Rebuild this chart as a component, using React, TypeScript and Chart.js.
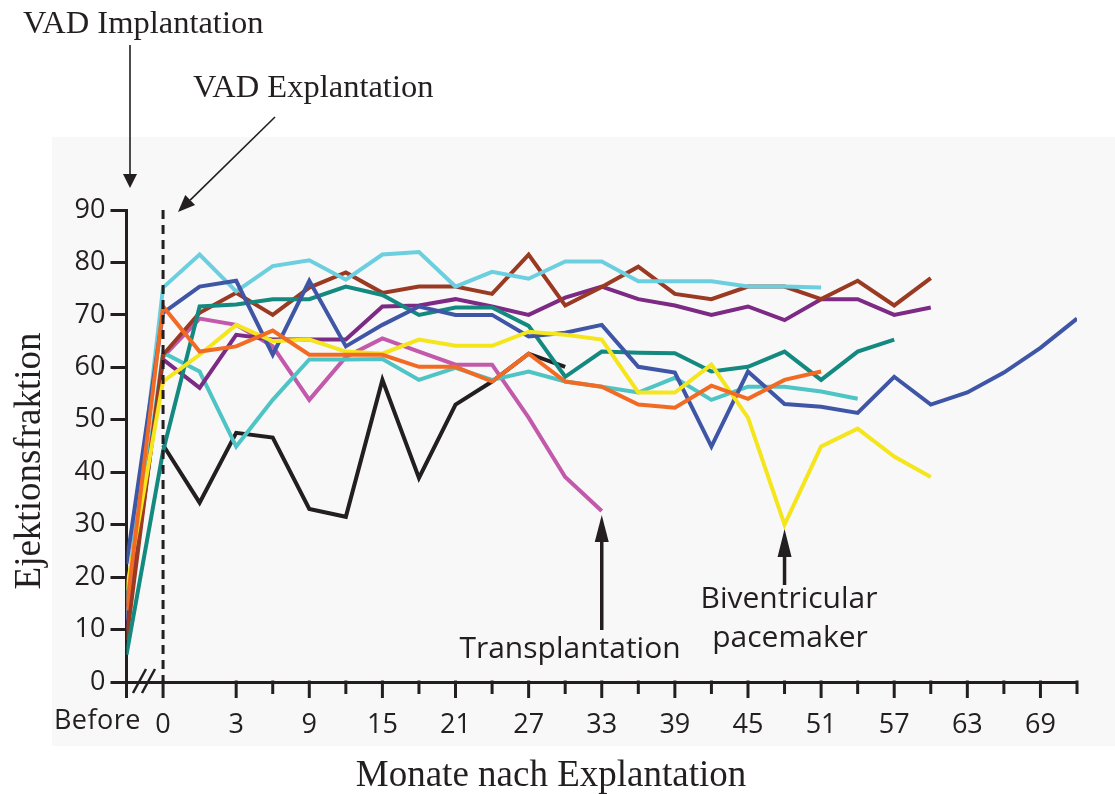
import React, { useEffect, useRef } from "react";
import { Chart, registerables } from "chart.js";

Chart.register(...registerables);

// x index: -1 = "Before", 0.. = measurement steps after explantation
const tickIndices = Array.from({ length: 27 }, (_, k) => k - 1);
const tickLabels: Record<number, string> = {
  0: "0", 2: "3", 4: "9", 6: "15", 8: "21", 10: "27", 12: "33",
  14: "39", 16: "45", 18: "51", 20: "57", 22: "63", 24: "69",
};
const yTicks = [0, 10, 20, 30, 40, 50, 60, 70, 80, 90];

// first value = "Before", then values at steps 0,1,2,...
const cyanValues = [15, 75.2, 81.5, 74.5, 79.3, 80.4, 76.7, 81.5, 82, 75.4, 78.2, 76.9, 80.2, 80.2, 76.4, 76.4, 76.4, 75.4, 75.4, 75.2];
const brownValues = [8, 62.4, 70.4, 74.2, 70, 75.2, 78.1, 74.2, 75.4, 75.4, 74, 81.5, 71.8, 75.3, 79.2, 74, 73, 75.4, 75.4, 73, 76.5, 71.8, 77];
const purpleValues = [10, 61.5, 56.1, 66.2, 65.3, 65.3, 65.3, 71.6, 71.8, 73, 71.6, 70, 73.3, 75.4, 73, 71.8, 70, 71.6, 69, 73, 73, 70, 71.4];
const blueValues = [22.5, 70.4, 75.4, 76.5, 62.4, 76.5, 64, 68.1, 71.6, 70, 70, 65.9, 66.6, 68.1, 60.1, 59, 44.9, 59.2, 53, 52.5, 51.3, 58.2, 52.9, 55.2, 59, 63.7, 69.3];
const tealValues = [5.2, 44, 71.6, 72, 73, 73, 75.4, 73.8, 70, 71.4, 71.4, 67.9, 58.2, 63, 62.8, 62.7, 59.2, 60.1, 63, 57.6, 63, 65.3];
const turquoiseValues = [11.8, 62.8, 59.2, 44.9, 53.8, 61.5, 61.5, 61.6, 57.6, 59.9, 57.6, 59.2, 57.3, 56.3, 55.2, 58, 53.8, 56.3, 56.3, 55.4, 54];
const orangeValues = [13.7, 71.6, 63, 64, 67, 62.4, 62.4, 62.4, 60.1, 60.1, 57.3, 62.6, 57.3, 56.3, 52.9, 52.3, 56.5, 54, 57.6, 59.2];
const yellowValues = [17.5, 57.3, 62.4, 68.1, 65, 65.3, 63, 62.6, 65.3, 64.1, 64.1, 66.8, 66.2, 65.3, 55.2, 55.2, 60.5, 50.4, 30, 44.9, 48.3, 43, 39.1];
const pinkValues = [12, 62, 69.3, 68.1, 64, 53.8, 62, 65.5, 63, 60.5, 60.5, 50.4, 39.1, 32.6];
const blackValues = [null, 45.2, 34.2, 47.5, 46.6, 33, 31.5, 57.6, 38.9, 52.9, 57.3, 62.6, 60.1];

const seriesList: { name: string; values: (number | null)[]; color: string }[] = [
  { name: "orange", values: orangeValues, color: "#f26b24" },
  { name: "yellow", values: yellowValues, color: "#f4e51c" },
  { name: "blue", values: blueValues, color: "#3f56a7" },
  { name: "teal", values: tealValues, color: "#13897f" },
  { name: "cyan", values: cyanValues, color: "#6bcfdf" },
  { name: "brown", values: brownValues, color: "#9a3a22" },
  { name: "purple", values: purpleValues, color: "#7c2a84" },
  { name: "turquoise", values: turquoiseValues, color: "#4fc4c5" },
  { name: "pink", values: pinkValues, color: "#c259ab" },
  { name: "black", values: blackValues, color: "#231f20" },
];

const INK = "#231f20";
const SANS = "'Open Sans', 'Noto Sans', sans-serif";
const SERIF = "'Liberation Serif', 'DejaVu Serif', serif";

function arrow(ctx: CanvasRenderingContext2D, x1: number, y1: number, x2: number, y2: number, lw: number, headLen: number, headW: number) {
  const a = Math.atan2(y2 - y1, x2 - x1);
  const bx = x2 - headLen * Math.cos(a);
  const by = y2 - headLen * Math.sin(a);
  ctx.beginPath();
  ctx.lineWidth = lw;
  ctx.moveTo(x1, y1);
  ctx.lineTo(bx, by);
  ctx.stroke();
  const px = -Math.sin(a) * headW / 2;
  const py = Math.cos(a) * headW / 2;
  ctx.beginPath();
  ctx.moveTo(x2, y2);
  ctx.lineTo(bx + px, by + py);
  ctx.lineTo(bx - px, by - py);
  ctx.closePath();
  ctx.fill();
}

const decor = {
  id: "decor",
  beforeDraw(chart: any) {
    const { ctx, width, height } = chart;
    ctx.save();
    ctx.fillStyle = "#ffffff";
    ctx.fillRect(0, 0, width, height);
    ctx.fillStyle = "#f8f8f8";
    ctx.fillRect(52, 137, width - 52, 746 - 137);
    ctx.restore();
  },
  afterDraw(chart: any) {
    const { ctx } = chart;
    const xs = chart.scales.x;
    const ys = chart.scales.y;
    const y0 = ys.getPixelForValue(0);
    const y90 = ys.getPixelForValue(90);
    ctx.save();
    ctx.strokeStyle = INK;
    ctx.fillStyle = INK;

    // x ticks
    ctx.lineWidth = 3;
    for (const i of tickIndices) {
      if (i === 1) continue;
      const x = xs.getPixelForValue(i);
      const len = i % 2 === 0 || i === -1 ? 16 : 12;
      ctx.beginPath();
      ctx.moveTo(x, y0 - 1.5);
      ctx.lineTo(x, y0 + len);
      ctx.stroke();
    }

    // axis break
    ctx.lineWidth = 2.5;
    ctx.beginPath();
    ctx.moveTo(133, y0 + 11);
    ctx.lineTo(146, y0 - 13);
    ctx.moveTo(142, y0 + 11);
    ctx.lineTo(155, y0 - 13);
    ctx.stroke();

    // dashed explant line
    const xd = xs.getPixelForValue(0);
    ctx.setLineDash([9, 6]);
    ctx.lineWidth = 3;
    ctx.beginPath();
    ctx.moveTo(xd, y90);
    ctx.lineTo(xd, y0);
    ctx.stroke();
    ctx.setLineDash([]);

    // Before label
    ctx.font = `27px ${SANS}`;
    ctx.textAlign = "right";
    ctx.textBaseline = "alphabetic";
    (ctx as any).letterSpacing = "0.5px";
    ctx.fillText("Before", 141, 729);
    (ctx as any).letterSpacing = "0px";

    // annotations (sans)
    ctx.font = `30px ${SANS}`;
    ctx.textAlign = "center";
    ctx.fillText("Transplantation", 570, 658);
    ctx.fillText("Biventricular", 789, 608);
    ctx.fillText("pacemaker", 790, 647);
    const xt = xs.getPixelForValue(12);
    arrow(ctx, xt, 630, xt, 515, 3.5, 27, 14);
    const xb = xs.getPixelForValue(17);
    arrow(ctx, xb, 585, xb, 529, 3.5, 28, 14);

    // top annotations (serif)
    ctx.font = `32.5px ${SERIF}`;
    ctx.textAlign = "left";
    ctx.fillText("VAD Implantation", 23, 33);
    ctx.fillText("VAD Explantation", 193, 97);
    arrow(ctx, 130, 45, 130, 188, 1.6, 14, 14);
    arrow(ctx, 275, 117, 178, 212, 1.6, 17, 14);

    // axis titles
    ctx.font = `37px ${SERIF}`;
    ctx.textAlign = "center";
    ctx.fillText("Monate nach Explantation", 551, 786);
    ctx.save();
    ctx.translate(40, 461);
    ctx.rotate(-Math.PI / 2);
    ctx.fillText("Ejektionsfraktion", 0, 0);
    ctx.restore();

    ctx.restore();
  },
};

export default function App() {
  const ref = useRef<HTMLCanvasElement | null>(null);
  useEffect(() => {
    if (!ref.current) return;
    const datasets = seriesList.map((s) => ({
      label: s.name,
      data: s.values
        .map((v, k) => ({ x: k - 1, y: v }))
        .filter((p) => p.y !== null),
      borderColor: s.color,
      backgroundColor: s.color,
      borderWidth: 4,
      pointRadius: 0,
      tension: 0,
      fill: false,
      borderJoinStyle: "miter" as const,
    }));
    const chart = new Chart(ref.current, {
      type: "line",
      data: { datasets },
      options: {
        animation: false,
        responsive: false,
        devicePixelRatio: 1,
        layout: { padding: { left: 0, right: 38, top: 210, bottom: 0 } },
        plugins: { legend: { display: false }, tooltip: { enabled: false } },
        scales: {
          x: {
            type: "linear",
            min: -1,
            max: 25,
            afterBuildTicks: (scale: any) => {
              scale.ticks = tickIndices.map((v) => ({ value: v }));
            },
            afterFit: (scale: any) => {
              scale.height = 112;
            },
            grid: { display: false },
            border: { display: true, color: INK, width: 3 },
            ticks: {
              autoSkip: false,
              maxRotation: 0,
              padding: 19,
              color: INK,
              font: { family: SANS, size: 27 },
              callback: (v: any) => tickLabels[Number(v)] ?? "",
            },
          },
          y: {
            min: 0,
            max: 90,
            afterBuildTicks: (scale: any) => {
              scale.ticks = yTicks.map((v) => ({ value: v }));
            },
            afterFit: (scale: any) => {
              scale.width = 126.5;
            },
            grid: { drawOnChartArea: false, drawTicks: true, tickLength: 16, color: INK, lineWidth: 3 },
            border: { display: true, color: INK, width: 3 },
            ticks: {
              padding: 5,
              color: INK,
              font: { family: SANS, size: 27 },
            },
          },
        },
      },
      plugins: [decor],
    });
    return () => chart.destroy();
  }, []);
  return (
    <div style={{ position: "fixed", left: 0, top: 0, width: 1115, height: 794 }}>
      <canvas ref={ref} width={1115} height={794} style={{ display: "block" }} />
    </div>
  );
}
